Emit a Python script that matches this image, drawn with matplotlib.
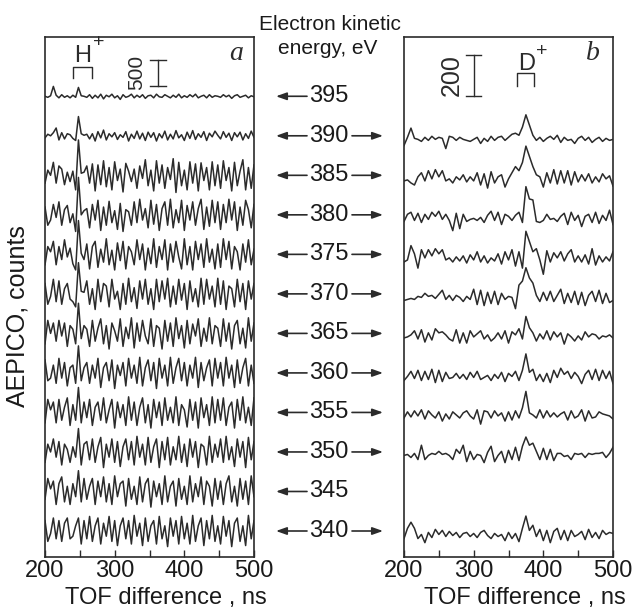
import numpy as np
import matplotlib
matplotlib.use("Agg")
import matplotlib.pyplot as plt
import matplotlib.transforms as mtransforms

plt.rcParams['font.family'] = ['Liberation Sans', 'DejaVu Sans']

# TOF difference axes: 4 ns bins in panel a, 5 ns bins in panel b
tof_a = np.arange(200, 501, 4)
tof_b = np.arange(200, 501, 5)

# panel a (H+), counts relative to each trace baseline
a395 = [0, -20, 10, 190, 20, -30, 30, -20, 10, -30, 20, -20, 170, 10, 0, -20, 30, -40, 20, -30, 40, -50, 20, -10, 40, -30, 10, -60, 30, -20, 0, 40, -30, 20, -20, 30, -40, 10, 20, -30, 40, -10, -20, 30, 0, -30, 20, -20, 40, -30, 10, -20, 30, -10, 40, -30, 0, 20, -30, 30, -20, 10, 0, -20, 30, -10, 20, -40, 10, 30, -20, 0, 20, -30, 10, -10]
a390 = [-40, 30, 0, 60, 150, -80, 60, -60, 40, 20, -50, -90, 370, 40, 10, 30, -60, 40, -100, 80, -40, 110, -80, 40, -20, 60, -70, 20, -30, 80, -100, 30, -50, 90, -60, 50, -90, 70, -30, 60, -100, 40, -40, 90, -80, 30, -60, 100, -40, 20, -90, 70, -50, 100, -70, 40, -30, 80, -90, 50, -20, 90, 10, -60, 80, -30, 50, -90, 60, -20, 70, -80, 40, -50, 90, -30]
a385 = [-150, 100, 0, 250, -150, 180, 120, -180, 60, -120, 80, -280, 680, 40, 60, 180, -150, 220, -300, 200, -180, 280, -220, 150, -280, 260, -100, 120, -320, 230, 80, -120, 120, -250, 180, -60, 300, -200, 100, -300, 280, -150, 200, -250, 150, -80, 320, -330, 250, -200, 100, -280, 260, -150, 220, -300, 240, -100, 150, -280, 260, -200, 200, -250, 280, -100, 150, -300, 250, -200, 80, 300, -280, 150, -250, 200]
a380 = [150, -200, -100, 200, -50, 250, -200, 100, 180, -150, 20, -320, 720, 0, 80, 120, -250, 200, -100, 280, -300, 150, -200, 260, -150, 80, -280, 220, -320, 100, 60, -200, 250, -150, 300, -100, 120, -250, 280, -180, 200, -300, 120, 250, -200, 300, -250, 100, -150, 280, -300, 180, -100, 250, -200, 120, 300, -280, 150, -220, 280, -150, 250, -280, 200, -150, 300, -100, 250, -300, 150, -200, 280, 100, -250, 200]
a375 = [-200, 150, 50, 250, -200, 150, -100, 280, -50, 120, -180, -300, 650, 20, -100, 200, -280, 150, 250, -250, 100, -150, 300, -200, 80, -300, 220, -120, 250, -280, 150, 50, -200, 280, -100, 200, -300, 120, -180, 300, -250, 150, -100, 280, -300, 200, -150, 250, -50, -280, 300, -200, 150, -300, 250, -100, 200, -250, 300, -150, 100, -280, 200, -250, 300, -100, 250, -280, 150, 50, -300, 200, -150, 280, -200, 100]
a370 = [200, -200, -50, 280, -150, 250, -200, 100, 200, -100, -150, -250, 600, 50, 30, 250, -200, 100, -300, 280, -150, 200, 150, -250, 280, -100, 50, -300, 200, -200, 300, -150, 120, -280, 250, -100, 280, -200, 100, -300, 280, -150, 250, -100, 300, -250, 150, -200, 280, -120, 200, -300, 250, -150, 100, -250, 300, -200, 280, -100, 150, -250, 300, -200, 250, -300, 150, 100, -250, 280, -150, 200, -300, 250, -100, 200]
a365 = [-200, 250, 0, 200, -150, 250, -50, 200, -250, 150, 80, -200, 580, -100, 150, 80, -250, 250, -150, 100, 280, -200, 150, -300, 200, 50, -150, 280, -250, 120, -100, 300, -280, 200, -150, 250, -50, -200, 280, -250, 150, 100, -300, 250, -150, 200, -250, 300, -100, 150, -280, 250, -200, 180, -50, 280, -250, 100, -150, 300, -200, 150, 100, -250, 280, -150, 200, -300, 150, 250, -200, 100, -280, 300, -150, 200]
a360 = [250, -150, -100, 150, -200, 280, -100, 200, -250, 100, 150, -200, 520, -150, 100, 200, -200, 150, -100, 280, -280, 100, 200, -150, 250, -300, 150, -50, 200, -250, 280, -100, 150, -200, 300, -250, 100, 250, -150, 200, -300, 280, -100, 150, -250, 300, -200, 100, 280, -150, 200, -250, 150, -100, 300, -280, 200, -150, 100, 250, -250, 280, -100, 200, -250, 300, -100, 150, -280, 250, -200, 100, 280, -250, 150, -200]
a355 = [-200, 250, 50, 200, -200, 250, -150, 100, 280, -250, 150, -150, 480, -200, 200, -100, 250, -250, 100, 200, -150, 280, -200, 50, 250, -300, 200, -100, 150, -250, 300, -150, 200, -250, 100, 280, -200, 150, -300, 250, -100, 200, -250, 280, -150, 100, -200, 300, -250, 150, 50, -280, 250, -150, 200, -300, 280, -100, 150, -250, 300, -200, 250, -150, 280, -250, 100, 200, -300, 250, -150, 300, -200, 100, -250, 280]
a350 = [-200, 150, 0, 250, -100, 200, -250, 150, 50, -200, 100, -100, 450, -250, 150, 200, -150, 250, -200, 100, 280, -300, 150, -100, 250, -200, 200, -280, 100, 250, -150, 200, -250, 300, -100, 150, -250, 280, -200, 100, 250, -300, 200, -150, 280, -250, 100, -150, 300, -200, 150, -280, 250, -100, 200, -300, 150, 100, -250, 300, -200, 150, -100, 250, -200, 300, -150, 100, -280, 250, -100, 200, -300, 280, -150, 200]
a345 = [-150, 250, 50, 200, -250, 150, 280, -200, 100, -250, 150, -100, 400, -200, 250, -150, 100, 250, -250, 200, -100, 280, -200, 150, -250, 300, -100, 150, 200, -280, 250, -150, 100, -250, 280, -200, 150, 250, -300, 200, -100, 150, -250, 300, -200, 100, 200, -280, 250, -150, 100, -250, 300, -200, 150, -100, 280, -250, 200, 100, -280, 250, -150, 200, -250, 150, 300, -200, 100, -280, 250, -150, 200, -250, 300, -100]
a340 = [200, -200, -50, 250, -150, 200, -200, 150, 250, -150, -100, 100, 250, -250, 200, -150, 280, -200, 100, 250, -250, 150, -100, 280, -200, 200, -280, 100, 250, -150, 200, -250, 300, -100, 150, -280, 250, -200, 100, 200, -250, 280, -150, 100, -300, 250, -100, 200, -250, 280, -150, 150, -250, 300, -200, 100, 250, -280, 200, -150, 300, -200, 100, -250, 280, -100, 200, -300, 150, 250, -200, 100, -280, 300, -150, 200]

# panel b (D+), counts relative to each trace baseline
b390 = [-30, 10, 55, 5, 0, -10, 10, -5, 15, 0, 10, 5, -45, 15, 10, -5, 10, 0, -5, -10, 0, 10, -20, 5, -10, 15, -5, 10, 15, -5, 10, 25, 30, 20, 60, 120, 70, 20, -5, 10, -10, 5, 15, 0, 20, -15, 10, -5, 0, -20, 5, 15, -5, 10, -15, 0, 10, -10, 5, -5, 0]
b385 = [-10, -5, -20, -30, 10, 30, -10, 40, 0, 45, 10, 40, -10, 0, -20, 10, -5, 20, -15, 10, -10, 30, -30, 25, -45, 35, -20, 10, 20, -40, 0, 30, 60, 40, 80, 160, 110, 60, 20, 10, -40, 30, -20, 45, -25, 40, -20, 40, -30, 35, -15, 20, -10, 25, -20, 10, -15, 25, 0, 15, -35]
b380 = [-15, 20, 30, -10, 25, -20, 20, -5, 30, 10, 35, -5, 20, -10, -60, 25, -50, 20, -15, -5, 0, -10, 5, -20, 15, 35, -10, 30, -30, 20, 10, -10, 15, 30, -20, 155, 95, 90, -15, -20, -10, 20, -5, 0, -15, 10, 25, -30, 30, -10, 15, -40, 10, 20, -20, 30, -25, 15, -10, 40, -30]
b375 = [-20, -10, 60, 20, -50, 40, 0, 40, 10, 45, 20, 40, -10, 0, -20, 5, -15, 10, -25, 15, -10, 30, -20, 10, -25, 0, -15, 20, -30, 30, -10, 40, -40, 30, -50, 130, 80, 30, 45, -10, -80, 35, -20, 25, 0, 30, -15, 20, 40, -20, 10, -20, 15, -30, 45, -35, 10, -20, 5, -15, 30]
b370 = [-15, -10, -5, -10, 5, 0, 20, 5, 10, -5, 15, 35, -10, 10, -15, 10, 0, -20, 5, -10, 40, -35, 35, -40, 25, -30, 30, -35, 20, -10, 5, 0, -55, 60, 80, 145, 95, 70, 10, -20, 25, -15, 30, -20, 10, 40, -30, 20, -25, 30, -35, 25, -40, 10, 30, -20, 35, -30, 20, -25, -15]
b365 = [-5, 0, 10, 30, -10, 35, -25, 20, -15, 40, 20, 25, 10, -10, -20, 35, -30, 20, -30, 30, 0, 15, 30, -10, 10, -20, -5, 20, -10, 30, -30, 25, 10, 40, -10, 100, 45, 20, -20, 15, -10, 30, -15, 25, 0, 20, -35, 15, 0, -20, 5, -15, 25, 0, 15, 10, -10, 5, 0, 10, -5]
b360 = [-20, 0, 25, -10, 30, -20, 25, -15, 35, -30, 30, -25, 20, -10, -5, 15, -10, 10, -15, 20, -5, 25, -15, -5, 5, -20, 10, -10, 20, -25, 15, 0, 25, -20, 30, 110, 20, 35, -20, 10, -25, 15, -30, 30, -5, 40, 10, 25, -10, 20, 0, -35, 10, 30, -15, 35, -20, 30, -10, 25, -35]
b355 = [-10, 20, -5, 25, 0, 30, -15, 25, 5, -10, 20, -25, 10, -15, 20, 5, -10, 15, 25, 0, -15, 30, -40, 25, 20, -10, 25, 0, 15, -25, 20, -20, 25, -10, 40, 120, 15, 5, -10, 30, -10, 25, -5, 15, -5, 10, 20, -20, 25, -10, 0, 30, -25, 25, -10, -5, 20, 10, 5, 0, -15]
b350 = [0, 5, -10, 10, -20, 50, -20, 0, 10, 5, 20, 5, 10, 0, -20, 30, 10, 50, -30, 20, -20, 5, 0, -35, 15, 45, -30, 0, 20, -35, 25, -20, 40, -25, 45, 90, 50, 60, 20, -20, 35, -20, 30, -25, 10, 10, -5, 0, -20, 10, 5, 10, -10, 10, 5, 10, 10, 15, -10, 10, 40]
b340 = [-20, 30, 60, 30, -20, 0, -40, 10, -15, 25, 0, 20, -10, 15, -5, 10, -15, 5, 10, -10, 5, -15, 10, 20, -5, -20, 5, -10, 0, -30, 10, -20, 5, -35, 30, 90, 20, 45, -10, 25, -30, 20, -40, 15, 30, -25, 20, -30, 20, -10, 0, 15, -25, 25, -15, 10, -20, 20, 0, 10, 5]

energies_a = [395, 390, 385, 380, 375, 370, 365, 360, 355, 350, 345, 340]
traces_a = [a395, a390, a385, a380, a375, a370, a365, a360, a355, a350, a345, a340]
energies_b = [390, 385, 380, 375, 370, 365, 360, 355, 350, 340]
traces_b = [b390, b385, b380, b375, b370, b365, b360, b355, b350, b340]
# energies with a trace in panel b get a second arrow
both_panels = set(energies_b)

ink = '#2b2b2b'

# vertical stacking of the traces (counts)
base_a, step_a = 500, 760
base_b, step_b = 110, 193


def offset(e, base, step):
    return base + step * (e - 340) / 5


def scale_bar(ax, x, y0, y1, half):
    ax.plot([x, x], [y0, y1], color=ink, lw=1.0)
    ax.plot([x - half, x + half], [y0, y0], color=ink, lw=1.0)
    ax.plot([x - half, x + half], [y1, y1], color=ink, lw=1.0)


def bracket(ax, x0, x1, ytop, ybot):
    ax.plot([x0, x0, x1, x1], [ybot, ytop, ytop, ybot], color=ink, lw=1.0)


fig = plt.figure(figsize=(6.4, 6.12), dpi=100)
ax_a = fig.add_axes([45 / 640, 55 / 612, 209 / 640, 520 / 612])
ax_b = fig.add_axes([404 / 640, 55 / 612, 209 / 640, 520 / 612])

for e, y in zip(energies_a, traces_a):
    ax_a.plot(tof_a, np.array(y) + offset(e, base_a, step_a), color=ink, lw=1.1)
for e, y in zip(energies_b, traces_b):
    ax_b.plot(tof_b, np.array(y) + offset(e, base_b, step_b), color=ink, lw=1.1)

ax_a.set_ylim(0, 10000)
ax_b.set_ylim(0, 2540)

for ax in (ax_a, ax_b):
    ax.set_xlim(200, 500)
    ax.set_xticks([200, 300, 400, 500])
    ax.set_xticks([250, 350, 450], minor=True)
    ax.set_yticks([])
    ax.tick_params(axis='x', which='both', direction='in', length=5, width=1.0,
                   color=ink, labelsize=17, pad=2, labelcolor='#1a1a1a')
    ax.set_xlabel('TOF difference , ns', fontsize=17, color='#1a1a1a')
    ax.xaxis.set_label_coords(0.58, -0.058)
    for s in ax.spines.values():
        s.set_color(ink)
        s.set_linewidth(1.2)

# panel a annotations
scale_bar(ax_a, 362, 9057, 9557, 11)
ax_a.text(332, 9317, '500', rotation=90, fontsize=15, ha='center', va='center', color=ink)
bracket(ax_a, 240, 267, 9423, 9212)
ax_a.text(254, 9640, 'H', fontsize=17, ha='center', va='center', color=ink)
ax_a.text(277, 9885, '+', fontsize=14, ha='center', va='center', color=ink)
ax_a.text(0.916, 0.968, 'a', transform=ax_a.transAxes, fontsize=20, ha='center', va='center',
          family='Liberation Serif', style='italic', color=ink)

# panel b annotations
scale_bar(ax_b, 300, 2252, 2452, 11)
ax_b.text(269, 2355, '200', rotation=90, fontsize=18, ha='center', va='center', color=ink)
bracket(ax_b, 362, 386, 2364, 2301)
ax_b.text(376, 2410, 'D', fontsize=17, ha='center', va='center', color=ink)
ax_b.text(398, 2470, '+', fontsize=14, ha='center', va='center', color=ink)
ax_b.text(0.902, 0.968, 'b', transform=ax_b.transAxes, fontsize=20, ha='center', va='center',
          family='Liberation Serif', style='italic', color=ink)

# electron kinetic energy labels between the panels
fig.text(330 / 640, 1 - 25 / 612, 'Electron kinetic', fontsize=15, ha='center', va='center', color='#1a1a1a')
fig.text(328 / 640, 1 - 49 / 612, 'energy, eV', fontsize=15, ha='center', va='center', color='#1a1a1a')

trans = mtransforms.blended_transform_factory(fig.transFigure, ax_a.transData)
arrow = dict(arrowstyle='-|>,head_length=0.45,head_width=0.16', color=ink, lw=1.2,
             mutation_scale=14, shrinkA=0, shrinkB=0)
for e in energies_a:
    y = offset(e, base_a, step_a)
    ax_a.text(329 / 640, y, str(e), transform=trans, fontsize=17, ha='center', va='center',
              color='#1a1a1a', clip_on=False)
    ax_a.annotate('', xy=(276 / 640, y), xytext=(307 / 640, y), xycoords=trans, textcoords=trans,
                  arrowprops=arrow, annotation_clip=False)
    if e in both_panels:
        ax_a.annotate('', xy=(383 / 640, y), xytext=(352 / 640, y), xycoords=trans, textcoords=trans,
                      arrowprops=arrow, annotation_clip=False)

fig.text(18 / 640, 1 - 316 / 612, 'AEPICO, counts', rotation=90, fontsize=18,
         ha='center', va='center', color='#1a1a1a')

fig.savefig('out.png', dpi=100)
